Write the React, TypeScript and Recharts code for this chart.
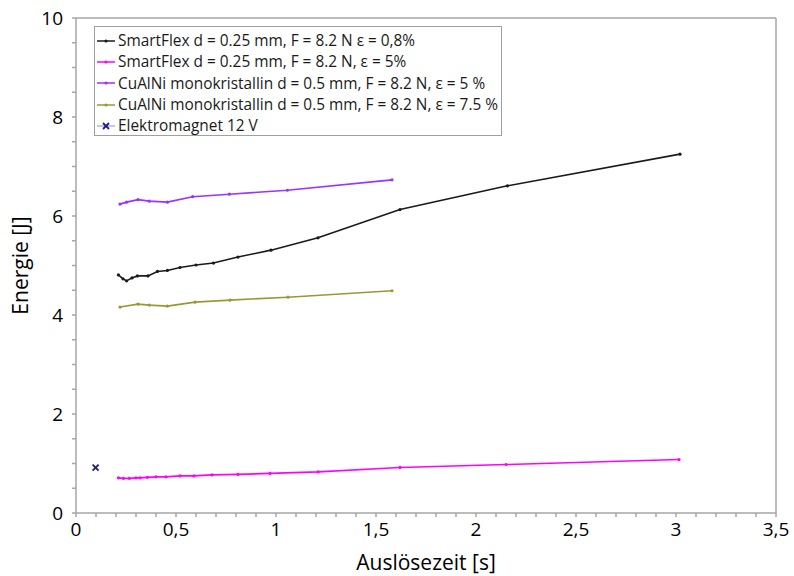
import React from 'react';
import { LineChart, Line, XAxis, YAxis, Legend, Label } from 'recharts';

const sf08Time = [0.212, 0.235, 0.253, 0.28, 0.307, 0.36, 0.407, 0.457, 0.52, 0.6, 0.687, 0.81, 0.975, 1.21, 1.62, 2.157, 3.02];
const sf08Energy = [4.81, 4.73, 4.69, 4.75, 4.79, 4.79, 4.88, 4.9, 4.96, 5.01, 5.05, 5.17, 5.31, 5.56, 6.13, 6.61, 7.25];

const sf5Time = [0.212, 0.237, 0.267, 0.3, 0.32, 0.357, 0.4, 0.45, 0.52, 0.59, 0.68, 0.81, 0.97, 1.21, 1.62, 2.15, 3.015];
const sf5Energy = [0.71, 0.7, 0.7, 0.71, 0.71, 0.72, 0.73, 0.73, 0.75, 0.75, 0.77, 0.78, 0.8, 0.83, 0.92, 0.98, 1.08];

const cu5Time = [0.22, 0.253, 0.31, 0.367, 0.457, 0.583, 0.767, 1.057, 1.58];
const cu5Energy = [6.24, 6.28, 6.33, 6.3, 6.28, 6.39, 6.44, 6.52, 6.73];

const cu75Time = [0.22, 0.31, 0.367, 0.457, 0.595, 0.77, 1.06, 1.58];
const cu75Energy = [4.16, 4.22, 4.2, 4.18, 4.26, 4.3, 4.36, 4.49];

const emTime = [0.098];
const emEnergy = [0.915];

const seriesNames = [
  'SmartFlex d = 0.25 mm, F = 8.2 N ε = 0,8%',
  'SmartFlex d = 0.25 mm, F = 8.2 N, ε = 5%',
  'CuAlNi monokristallin d = 0.5 mm, F = 8.2 N, ε = 5 %',
  'CuAlNi monokristallin d = 0.5 mm, F = 8.2 N, ε = 7.5 %',
  'Elektromagnet 12 V',
];
const seriesColors = ['#1a1a1a', '#ff00ff', '#9933ff', '#999933', '#1f1f80'];

const xTicksAll = Array.from({ length: 36 }, (_, i) => i / 10);
const yTicksAll = Array.from({ length: 21 }, (_, i) => i / 2);

const zip = (xs: number[], ys: number[]) => xs.map((x, i) => ({ x, y: ys[i] }));

const sf08Data = zip(sf08Time, sf08Energy);
const sf5Data = zip(sf5Time, sf5Energy);
const cu5Data = zip(cu5Time, cu5Energy);
const cu75Data = zip(cu75Time, cu75Energy);
const emData = zip(emTime, emEnergy);

const FONT = '"Open Sans", "DejaVu Sans", sans-serif';
const FRAME = '#a6a6a6';

const isMult = (v: number, m: number) => Math.abs(v / m - Math.round(v / m)) < 1e-6;

const xFmt = (v: number) => (isMult(v, 0.5) ? String(Math.round(v * 10) / 10).replace('.', ',') : '');
const yFmt = (v: number) => (isMult(v, 2) ? String(Math.round(v)) : '');

const SmallDot = (color: string) => (props: any) => {
  const { cx, cy, index } = props;
  if (cx == null || cy == null) return <g key={index} />;
  return <circle key={index} cx={cx} cy={cy} r={1.6} fill={color} stroke="none" />;
};

const CrossDot = (props: any) => {
  const { cx, cy, index } = props;
  if (cx == null || cy == null) return <g key={index} />;
  const s = 3;
  return (
    <g key={index} stroke={seriesColors[4]} strokeWidth={1.8}>
      <line x1={cx - s} y1={cy - s} x2={cx + s} y2={cy + s} />
      <line x1={cx - s} y1={cy + s} x2={cx + s} y2={cy - s} />
    </g>
  );
};

const LegendBox = () => (
  <div
    style={{
      border: '1px solid #a0a0a0',
      background: '#fff',
      width: 406,
      height: 105,
      boxSizing: 'content-box',
      paddingTop: 3,
      fontFamily: FONT,
      fontSize: 15.4,
      color: '#1a1a1a',
      textAlign: 'left',
    }}
  >
    {seriesNames.map((n, i) => (
      <div key={i} style={{ display: 'flex', alignItems: 'center', height: 21.3, whiteSpace: 'nowrap' }}>
        <svg width={20} height={12} style={{ marginLeft: 1, marginRight: 2, flex: 'none' }}>
          {i < 4 ? (
            <>
              <line x1={1} y1={6} x2={19} y2={6} stroke={seriesColors[i]} strokeWidth={1.5} />
              <circle cx={10} cy={6} r={1.6} fill={seriesColors[i]} />
            </>
          ) : (
            <>
              <line x1={1} y1={6} x2={19} y2={6} stroke="#a0a0e0" strokeWidth={1.2} />
              <line x1={7} y1={3} x2={13} y2={9} stroke={seriesColors[4]} strokeWidth={1.8} />
              <line x1={7} y1={9} x2={13} y2={3} stroke={seriesColors[4]} strokeWidth={1.8} />
            </>
          )}
        </svg>
        <span>{n}</span>
      </div>
    ))}
  </div>
);

export default function App() {
  return (
    <div style={{ position: 'absolute', left: 0, top: 0, width: 794, height: 576, background: '#fff' }}>
      <LineChart width={794} height={576} margin={{ top: 8, right: 17, bottom: 0, left: 0 }}>
        <XAxis
          xAxisId="top"
          orientation="top"
          type="number"
          dataKey="x"
          domain={[0, 3.5]}
          ticks={xTicksAll}
          tickFormatter={() => ''}
          tickSize={4}
          height={10}
          stroke={FRAME}
          strokeWidth={1.5}
          interval={0}
        />
        <XAxis
          type="number"
          dataKey="x"
          domain={[0, 3.5]}
          ticks={xTicksAll}
          interval={0}
          tickFormatter={xFmt}
          tickSize={4}
          tickMargin={6}
          height={63}
          stroke={FRAME}
          strokeWidth={1.5}
          tick={{ fill: '#000', fontSize: 19, fontFamily: FONT }}
        >
          <Label
            value="Auslösezeit [s]"
            position="insideBottom"
            offset={6}
            fill="#000"
            fontSize={21}
            fontFamily={FONT}
          />
        </XAxis>
        <YAxis
          type="number"
          domain={[0, 10]}
          ticks={yTicksAll}
          interval={0}
          tickFormatter={yFmt}
          tickSize={4}
          tickMargin={9}
          width={76}
          stroke={FRAME}
          strokeWidth={1.5}
          tick={{ fill: '#000', fontSize: 19, fontFamily: FONT }}
        >
          <Label
            value="Energie [J]"
            angle={-90}
            position="center"
            dx={-17}
            fill="#000"
            fontSize={21}
            fontFamily={FONT}
          />
        </YAxis>
        <YAxis
          yAxisId="right"
          orientation="right"
          type="number"
          domain={[0, 10]}
          tick={false}
          tickLine={false}
          width={1}
          stroke={FRAME}
          strokeWidth={1.5}
        />
        <Legend
          verticalAlign="middle"
          align="center"
          layout="vertical"
          wrapperStyle={{ left: 94, top: 26, width: 410, height: 110 }}
          content={() => <LegendBox />}
        />
        <Line
          data={sf08Data}
          dataKey="y"
          name={seriesNames[0]}
          stroke={seriesColors[0]}
          strokeWidth={1.6}
          dot={SmallDot(seriesColors[0])}
          isAnimationActive={false}
          type="linear"
        />
        <Line
          data={sf5Data}
          dataKey="y"
          name={seriesNames[1]}
          stroke={seriesColors[1]}
          strokeWidth={1.6}
          dot={SmallDot(seriesColors[1])}
          isAnimationActive={false}
          type="linear"
        />
        <Line
          data={cu5Data}
          dataKey="y"
          name={seriesNames[2]}
          stroke={seriesColors[2]}
          strokeWidth={1.6}
          dot={SmallDot(seriesColors[2])}
          isAnimationActive={false}
          type="linear"
        />
        <Line
          data={cu75Data}
          dataKey="y"
          name={seriesNames[3]}
          stroke={seriesColors[3]}
          strokeWidth={1.6}
          dot={SmallDot(seriesColors[3])}
          isAnimationActive={false}
          type="linear"
        />
        <Line
          data={emData}
          dataKey="y"
          name={seriesNames[4]}
          stroke="none"
          dot={CrossDot}
          isAnimationActive={false}
          type="linear"
        />
      </LineChart>
    </div>
  );
}
